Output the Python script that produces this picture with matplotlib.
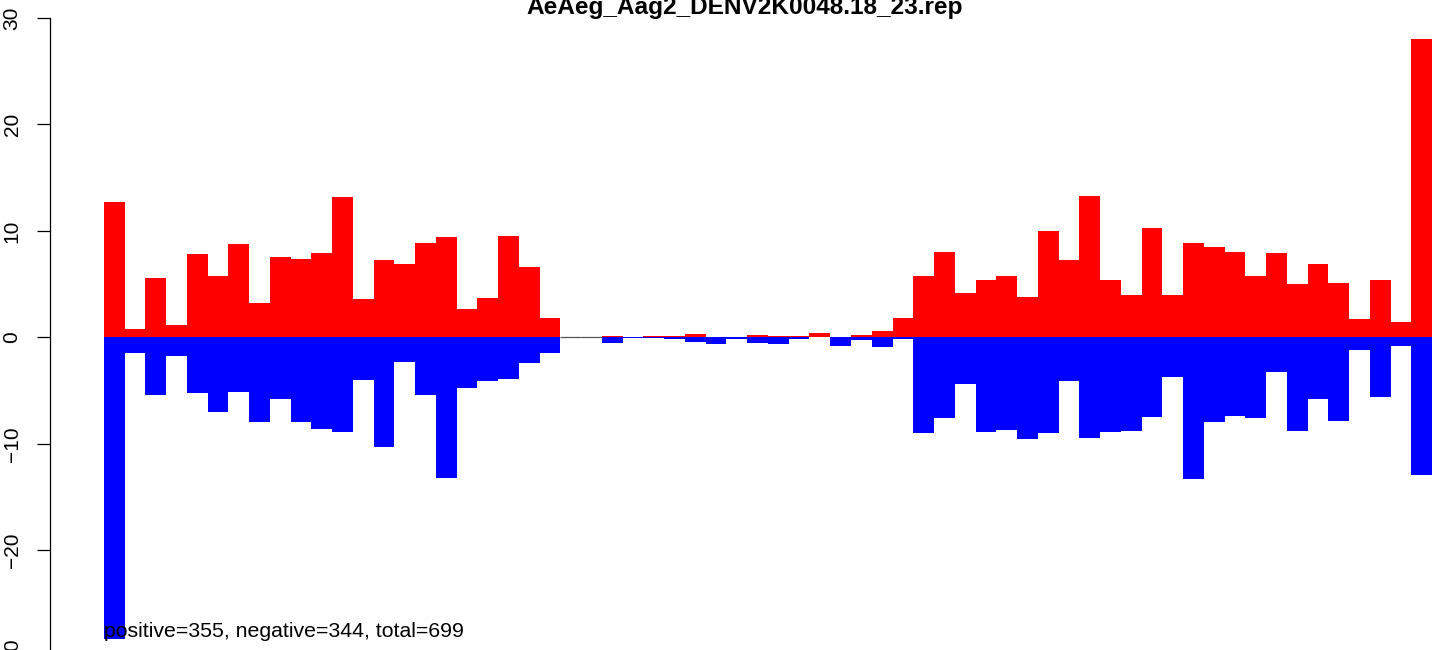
"""
Positive / negative strand bar chart (R barplot style) for AeAeg_Aag2_DENV2K0048.18_23.rep
"""
import numpy as np
import matplotlib
matplotlib.use('Agg')
import matplotlib.pyplot as plt

plt.rcParams['font.family'] = ['Liberation Sans', 'DejaVu Sans']

TITLE = 'AeAeg_Aag2_DENV2K0048.18_23.rep'
NOTE = 'positive=355, negative=344, total=699'

# per-position values (64 bins)
pos_vals = [12.7, 0.8, 5.6, 1.2, 7.8, 5.8, 8.8, 3.2, 7.5, 7.4, 7.9, 13.2, 3.6, 7.3, 6.9, 8.9,
            9.4, 2.7, 3.7, 9.5, 6.6, 1.8,
            0, 0, 0.16, 0, 0.15, 0.16, 0.35, 0, 0, 0.22, 0.13, 0.13, 0.42, 0, 0.22, 0.6,
            1.8, 5.8, 8.0, 4.2, 5.4, 5.8, 3.8, 10.0, 7.3, 13.3, 5.4, 4.0, 10.3, 4.0, 8.9, 8.5,
            8.0, 5.8, 7.9, 5.0, 6.9, 5.1, 1.7, 5.4, 1.4, 28.0]
neg_vals = [-28.3, -1.5, -5.4, -1.8, -5.2, -7.0, -5.1, -8.0, -5.8, -8.0, -8.6, -8.9, -4.0, -10.3, -2.3, -5.4,
            -13.2, -4.8, -4.1, -3.9, -2.4, -1.5,
            0, 0, -0.53, -0.1, -0.08, -0.16, -0.44, -0.63, -0.15, -0.53, -0.63, -0.16, 0, -0.82, -0.25, -0.91,
            -0.18, -9.0, -7.6, -4.4, -8.9, -8.75, -9.6, -9.0, -4.1, -9.5, -8.9, -8.8, -7.5, -3.7, -13.35, -8.0,
            -7.4, -7.6, -3.3, -8.8, -5.8, -7.9, -1.2, -5.6, -0.85, -12.9]
y_ticks = [-30, -20, -10, 0, 10, 20, 30]

fig = plt.figure(figsize=(14.49, 6.5), dpi=100)
ax = fig.add_axes([0.0345, -0.0102, 0.9538, 0.9825])

x = np.arange(len(pos_vals))
ax.bar(x, pos_vals, width=1.0, align='edge', color='#ff0000', linewidth=0)
ax.bar(x, neg_vals, width=1.0, align='edge', color='#0000ff', linewidth=0)

# empty bins show up as a thin grey line at zero
for i in x:
    if pos_vals[i] == 0 and neg_vals[i] == 0:
        ax.hlines(0, i, i + 1, color='#555555', linewidth=0.9)

ax.set_xlim(-2.6, len(pos_vals))
ax.set_ylim(-30, 30)
ax.set_yticks(y_ticks)
ax.set_yticklabels([str(t).replace('-', '\u2212') for t in y_ticks], rotation=90, va='center', fontsize=15)
ax.tick_params(axis='y', length=9.5, width=0.9, pad=11)
ax.set_xticks([])
for s in ('top', 'right', 'bottom'):
    ax.spines[s].set_visible(False)
ax.spines['left'].set_linewidth(0.9)

fig.text(745 / 1449, 1 - 14 / 650, TITLE, ha='center', va='baseline', fontsize=17.6, fontweight='bold')
fig.text(104 / 1449, 13 / 650, NOTE, ha='left', va='baseline', fontsize=15.3)

plt.savefig('out.png', dpi=100)
plt.close()
